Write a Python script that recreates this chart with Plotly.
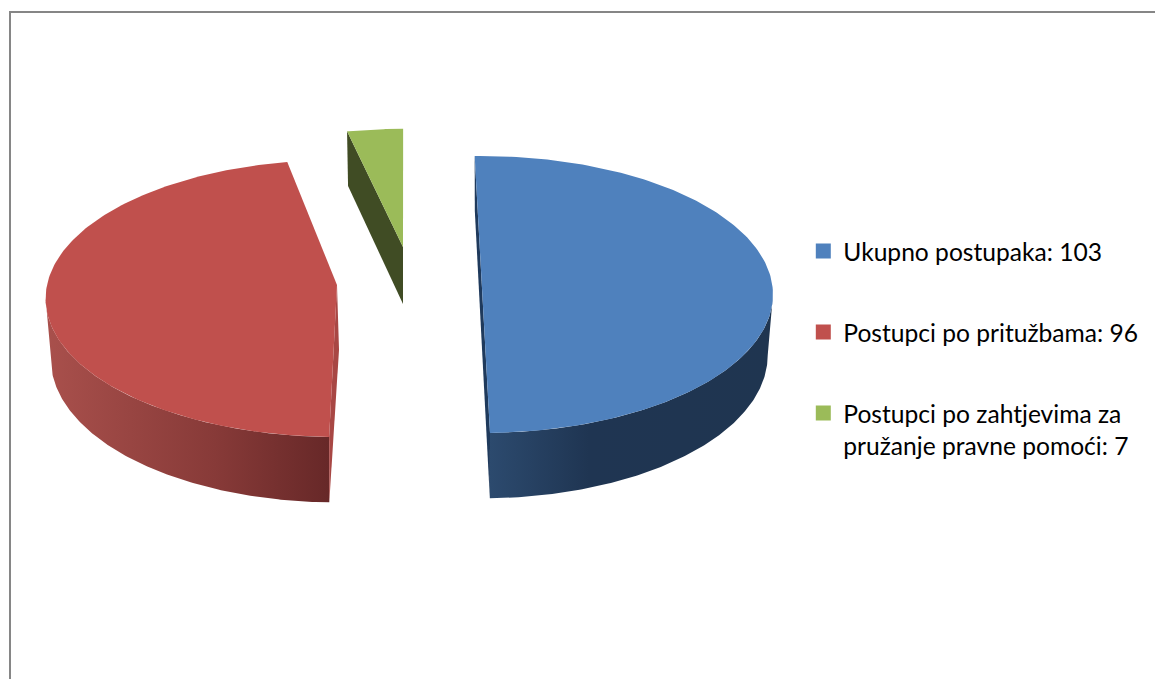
import numpy as np
import plotly.graph_objects as go

# ---- data ----
labels = ["Ukupno postupaka: 103", "Postupci po pritužbama: 96",
          "Postupci po zahtjevima za<br>pružanje pravne pomoći: 7"]
values = [103, 96, 7]

# ---- style and placement ----
TOP = ["#4F81BD", "#C0504D", "#9BBB59"]
CUT = ["#1F3A5C", "#A84744", "#404C24"]
APEX = [(481.6, 281.0), (337.0, 285.0), (403.0, 247.0)]
START = [-1.5, 181.4, 347.8]
RY_SCALE = [1.0, 1.0, 0.945]
RX, RY, K, DEPTH = 290.0, 137.2, 0.0975, 60.0
SHRINK = 0.982
EXTREME = np.degrees(np.arccos(-K))
spans = [v / sum(values) * 360 for v in values]


def top(i, deg):
    t = np.radians(deg)
    p = 1 / (1 + K * np.cos(t))
    return APEX[i][0] + RX * np.sin(t) * p, APEX[i][1] - RY * RY_SCALE[i] * np.cos(t) * p


def bottom(i, deg):
    x, y = top(i, deg)
    t = np.radians(deg)
    return APEX[i][0] + (x - APEX[i][0]) * SHRINK, y + DEPTH * (1 - 0.09 * np.cos(t))


def arc(fn, i, a, b, n=160):
    return fn(i, np.linspace(a, b, n))


def poly(x, y, **kw):
    return go.Scatter(x=x, y=y, mode="lines", fill="toself", line=dict(width=0),
                      hoverinfo="skip", showlegend=False, **kw)


fig = go.Figure()

# red slice
a, b = START[1], START[1] + spans[1]
x1, y1 = arc(top, 1, a, 360 - EXTREME)
x2, y2 = arc(bottom, 1, 360 - EXTREME, a)
fig.add_trace(go.Scatter(
    x=np.r_[x1, x2], y=np.r_[y1, y2], mode="lines", fill="toself", line=dict(width=0),
    hoverinfo="skip", showlegend=False,
    fillgradient=dict(type="horizontal",
                      colorscale=[[0, "#A9504C"], [0.6, "#873A38"], [1, "#672828"]])))
fx, fy = top(1, a)
bx, by = bottom(1, a)
ax, ay = APEX[1]
fig.add_trace(poly([ax, ax + 2, bx, fx], [ay, ay + 65, by, fy], fillcolor=CUT[1]))
x, y = arc(top, 1, a, b)
fig.add_trace(poly(np.r_[ax, x], np.r_[ay, y], fillcolor=TOP[1]))

# green slice
a, b = START[2], START[2] + spans[2]
ax, ay = APEX[2]
tx, ty = top(2, a)
bx, by = bottom(2, a)
fig.add_trace(poly([tx, bx, ax, ax], [ty, by, ay + 57, ay], fillcolor=CUT[2]))
x, y = arc(top, 2, a, b, 30)
fig.add_trace(poly(np.r_[ax, x], np.r_[ay, y], fillcolor=TOP[2]))

# blue slice
a, b = START[0], START[0] + spans[0]
x1, y1 = arc(top, 0, EXTREME, b)
x2, y2 = arc(bottom, 0, b, EXTREME)
fig.add_trace(go.Scatter(
    x=np.r_[x1, x2], y=np.r_[y1, y2], mode="lines", fill="toself", line=dict(width=0),
    hoverinfo="skip", showlegend=False,
    fillgradient=dict(type="horizontal",
                      colorscale=[[0, "#2C4A6E"], [0.35, "#1F3552"], [1, "#1F3550"]])))
ax, ay = APEX[0]
tbx, tby = top(0, a)
bbx, bby = bottom(0, a)
tfx, tfy = top(0, b)
bfx, bfy = bottom(0, b)
fig.add_trace(poly([tbx, bbx, ax, bfx, tfx, ax], [tby, bby, ay + 60, bfy, tfy, ay],
                   fillcolor=CUT[0]))
x, y = arc(top, 0, a, b)
fig.add_trace(poly(np.r_[ax, x], np.r_[ay, y], fillcolor=TOP[0]))

# legend entries
for i, (lab, col) in enumerate(zip(labels, TOP)):
    fig.add_trace(go.Scatter(x=[None], y=[None], mode="markers", name=lab,
                             legendgroup=str(i),
                             marker=dict(symbol="square", size=15, color=col)))

fig.update_layout(
    width=1155, height=679, margin=dict(l=0, r=0, t=0, b=0),
    paper_bgcolor="white", plot_bgcolor="white",
    font=dict(family="Lato", size=24.6, color="#000000"),
    xaxis=dict(range=[0, 1155], visible=False, fixedrange=True),
    yaxis=dict(range=[679, 0], visible=False, fixedrange=True),
    legend=dict(x=0.6955, y=0.6634, xanchor="left", yanchor="top", valign="top",
                tracegroupgap=46, itemclick=False, itemdoubleclick=False,
                bgcolor="rgba(0,0,0,0)", itemwidth=30),
    shapes=[dict(type="line", xref="x", yref="y", x0=10, x1=10, y0=679, y1=11,
                 line=dict(color="#868686", width=2)),
            dict(type="line", xref="x", yref="y", x0=9, x1=1155, y0=12, y1=12,
                 line=dict(color="#868686", width=2))],
)

fig.write_html("out.html", config={"displayModeBar": False},
               post_script="document.body.style.margin='0';document.body.style.overflow='hidden';")
